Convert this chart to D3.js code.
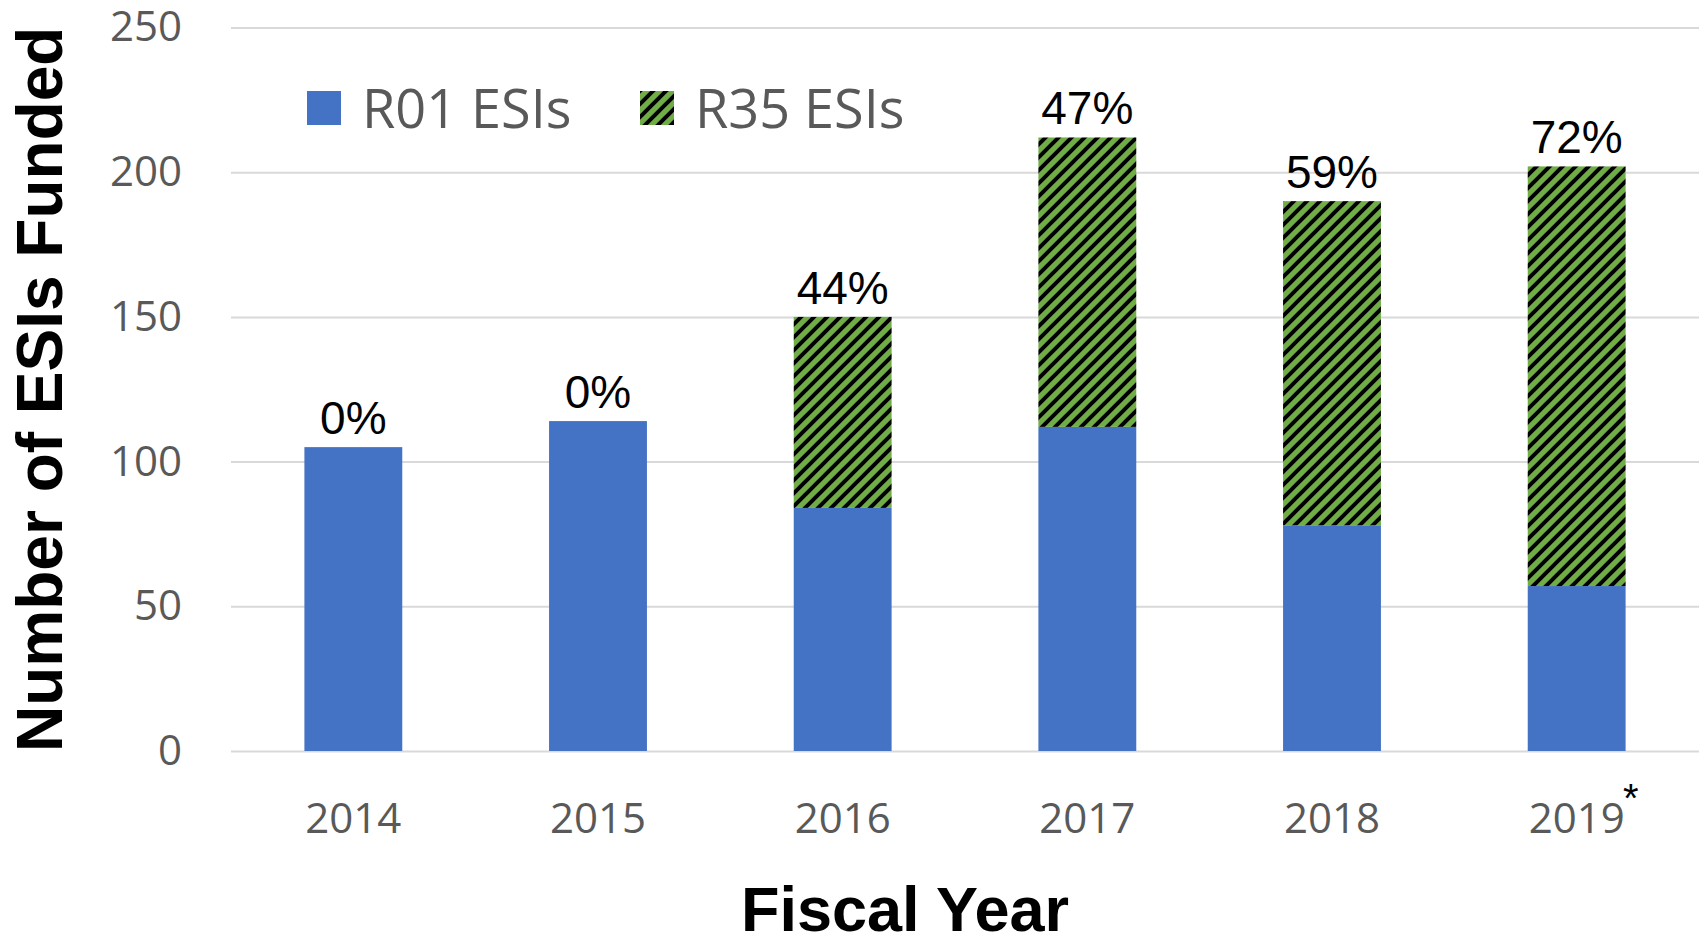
<!DOCTYPE html>
<html>
<head>
<meta charset="utf-8">
<script src="https://cdn.jsdelivr.net/npm/d3@7"></script>
<style>
  body { margin: 0; background: #fff; }
</style>
</head>
<body>
<svg id="chart"></svg>
<script>
// data
let years = ['2014', '2015', '2016', '2017', '2018', '2019'];
let r01 = [105, 114, 84, 112, 78, 57];
let r35 = [0, 0, 66, 100, 112, 145];
let pctLabels = ['0%', '0%', '44%', '47%', '59%', '72%'];
let yTicks = [0, 50, 100, 150, 200, 250];
let seriesNames = ['R01 ESIs', 'R35 ESIs'];

function makeChart() {
	let w = 1708;
	let h = 940;
	let plotL = 231;
	let plotR = 1699;
	let plotT = 27.5;
	let plotB = 751;

	let blue = '#4472C4';
	let green = '#70AD47';
	let hp = 13; // hatch period

	let chart = d3.select('#chart')
		.attr('width', w)
		.attr('height', h);

	// hatch for R35 bars
	let defs = chart.append('defs');
	let pat = defs.append('pattern')
		.attr('id', 'hatch')
		.attr('patternUnits', 'userSpaceOnUse')
		.attr('width', hp)
		.attr('height', hp);
	pat.append('rect')
		.attr('width', hp)
		.attr('height', hp)
		.attr('fill', green);
	pat.append('path')
		.attr('d', `M${-hp/4},${hp/4} l${hp/2},${-hp/2} M0,${hp} l${hp},${-hp} M${hp*3/4},${hp*5/4} l${hp/2},${-hp/2}`)
		.attr('stroke', '#000')
		.attr('stroke-width', 4);

	let dataset = years.map((y, i) => ({year: y, r01: r01[i], r35: r35[i], pct: pctLabels[i]}));

	let xScale = d3.scaleBand()
		.domain(years)
		.range([plotL, plotR])
		.paddingInner(0.6)
		.paddingOuter(0.3);

	let yScale = d3.scaleLinear()
		.domain([0, 250])
		.range([plotB, plotT]);

	// y axis + gridlines
	let yAxis = chart.append('g')
		.attr('transform', `translate(${plotL},0)`)
		.call(d3.axisLeft(yScale)
			.tickValues(yTicks)
			.tickSize(-(plotR - plotL))
			.tickPadding(49));
	yAxis.select('.domain').remove();
	yAxis.selectAll('line')
		.attr('stroke', '#d9d9d9')
		.attr('stroke-width', 2);
	yAxis.selectAll('text')
		.attr('fill', '#595959')
		.style('font-family', '"Open Sans", sans-serif')
		.style('font-size', '42px');

	// stacked bars
	let stack = d3.stack().keys(['r01', 'r35']);
	let series = stack(dataset);

	let groups = chart.selectAll('g.series')
		.data(series)
		.enter()
		.append('g')
		.attr('class', 'series')
		.attr('fill', (d, i) => i == 0 ? blue : 'url(#hatch)');

	groups.selectAll('rect')
		.data(d => d)
		.enter()
		.append('rect')
		.attr('x', d => xScale(d.data.year))
		.attr('y', d => yScale(d[1]))
		.attr('height', d => yScale(d[0]) - yScale(d[1]))
		.attr('width', xScale.bandwidth());

	// percent labels
	chart.append('g')
		.selectAll('text')
		.data(dataset)
		.enter()
		.append('text')
		.attr('x', d => xScale(d.year) + xScale.bandwidth() / 2)
		.attr('y', d => yScale(d.r01 + d.r35) - 13)
		.attr('text-anchor', 'middle')
		.style('font-family', '"Liberation Sans", Arial, sans-serif')
		.style('font-size', '46px')
		.attr('fill', '#000')
		.text(d => d.pct);

	// x axis
	let xAxis = chart.append('g')
		.attr('transform', `translate(0,${plotB})`)
		.call(d3.axisBottom(xScale).tickSize(0));
	xAxis.select('.domain').remove();
	xAxis.selectAll('text')
		.attr('y', 82)
		.attr('dy', 0)
		.attr('fill', '#595959')
		.style('font-family', '"Open Sans", sans-serif')
		.style('font-size', '42px');

	// footnote star on last year
	chart.append('text')
		.attr('x', xScale('2019') + xScale.bandwidth() / 2 + 54)
		.attr('y', 812)
		.attr('text-anchor', 'middle')
		.style('font-family', '"Liberation Sans", Arial, sans-serif')
		.style('font-size', '40px')
		.attr('fill', '#000')
		.text('*');

	// legend
	let legX = [307, 640];
	let leg = chart.append('g')
		.selectAll('g')
		.data(seriesNames)
		.enter()
		.append('g')
		.attr('transform', (d, i) => `translate(${legX[i]},91)`);
	leg.append('rect')
		.attr('width', 34)
		.attr('height', 34)
		.attr('fill', (d, i) => i == 0 ? blue : 'url(#hatch)');
	leg.append('text')
		.attr('x', 55)
		.attr('y', 37)
		.attr('fill', '#595959')
		.style('font-family', '"Open Sans", sans-serif')
		.style('font-size', '54px')
		.text(d => d);

	// axis titles
	chart.append('text')
		.attr('transform', `translate(62,${(plotT + plotB) / 2}) rotate(-90)`)
		.attr('text-anchor', 'middle')
		.style('font-family', '"Liberation Sans", Arial, sans-serif')
		.style('font-weight', 'bold')
		.style('font-size', '64px')
		.attr('fill', '#000')
		.text('Number of ESIs Funded');

	chart.append('text')
		.attr('x', 905)
		.attr('y', 931)
		.attr('text-anchor', 'middle')
		.style('font-family', '"Liberation Sans", Arial, sans-serif')
		.style('font-weight', 'bold')
		.style('font-size', '63px')
		.attr('fill', '#000')
		.text('Fiscal Year');
}

window.onload = function () {
	makeChart();
}
</script>
</body>
</html>
